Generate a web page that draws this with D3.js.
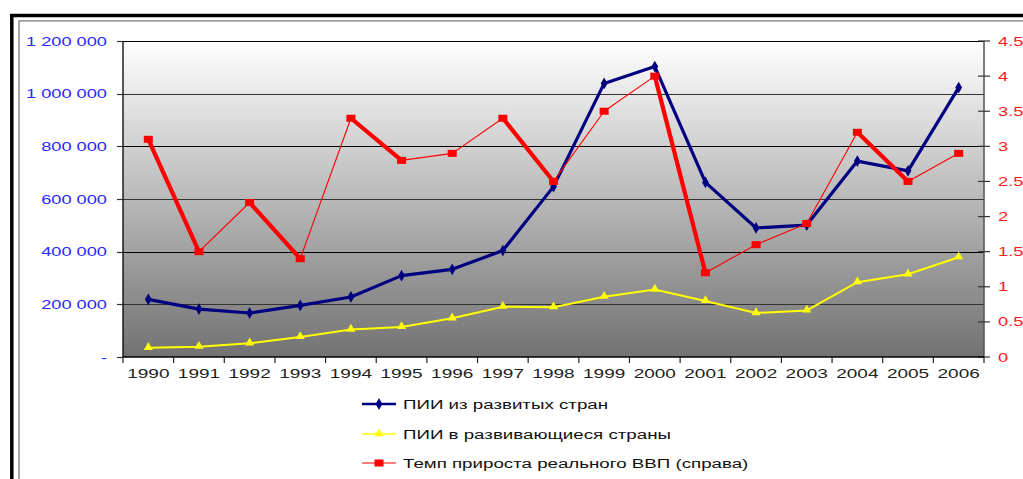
<!DOCTYPE html>
<html><head><meta charset="utf-8">
<script src="https://cdn.jsdelivr.net/npm/d3@7"></script>
<style>
html,body{margin:0;padding:0;background:#fff;}
svg{display:block;}
text{font-family:"Liberation Sans",Arial,sans-serif;}
</style></head>
<body>
<svg id="c" width="1023" height="479"></svg>
<script>
const years = ["1990","1991","1992","1993","1994","1995","1996","1997","1998","1999","2000","2001","2002","2003","2004","2005","2006"];
const fdiDeveloped = [219000,182000,167000,196000,228000,309000,333000,404000,647000,1039000,1103000,663000,490000,501000,744000,707000,1023000];
const fdiDeveloping = [35000,39000,52000,76000,104000,114000,147000,191000,189000,229000,256000,213000,167000,177000,284000,314000,379000];
const gdpGrowth = [3.1,1.5,2.2,1.4,3.4,2.8,2.9,3.4,2.5,3.5,4.0,1.2,1.6,1.9,3.2,2.5,2.9];
const leftTicks = [0,200000,400000,600000,800000,1000000,1200000];
const rightTicks = [0,0.5,1,1.5,2,2.5,3,3.5,4,4.5];
const legendLabels = ["ПИИ из развитых стран","ПИИ в развивающиеся страны","Темп прироста реального ВВП (справа)"];

const SX = 1.52; // horizontal stretch of text in the reference
const svg = d3.select("#c");
const L = 123, R = 984, T = 41, B = 357;

// frame
svg.append("line").attr("x1",10).attr("x2",1023).attr("y1",15.5).attr("y2",15.5).attr("stroke","#000").attr("stroke-width",3.5);
svg.append("line").attr("x1",11.8).attr("x2",11.8).attr("y1",14).attr("y2",479).attr("stroke","#000").attr("stroke-width",3.5);
svg.append("line").attr("x1",19).attr("x2",1023).attr("y1",20.8).attr("y2",20.8).attr("stroke","#777").attr("stroke-width",1.3);
svg.append("line").attr("x1",19).attr("x2",19).attr("y1",20.5).attr("y2",479).attr("stroke","#777").attr("stroke-width",1.3);

const x = d3.scaleBand().domain(years).range([L,R]);
const cx = d => x(d) + x.bandwidth()/2;
const yL = d3.scaleLinear().domain([0,1200000]).range([B,T]);
const yR = d3.scaleLinear().domain([0,4.5]).range([B,T]);

// background gradient
const defs = svg.append("defs");
const g = defs.append("linearGradient").attr("id","bg").attr("x1",0).attr("x2",0).attr("y1",0).attr("y2",1);
g.append("stop").attr("offset","0%").attr("stop-color","#ffffff");
g.append("stop").attr("offset","100%").attr("stop-color","#727272");
svg.append("rect").attr("x",L).attr("y",T).attr("width",R-L).attr("height",B-T).attr("fill","url(#bg)");

// gridlines
svg.append("g").selectAll("line").data(leftTicks.filter(d=>d>0)).join("line")
  .attr("x1",L).attr("x2",R).attr("y1",d=>Math.round(yL(d))+0.5).attr("y2",d=>Math.round(yL(d))+0.5)
  .attr("stroke",(d,i)=> i%2? "#000":"#333").attr("stroke-width",1.2);

// left axis
const loc = d3.formatLocale({decimal:",",thousands:"\u00a0",grouping:[3],currency:["",""]});
const fmtL = loc.format(",");
const gl = svg.append("g");
gl.append("line").attr("x1",L).attr("x2",L).attr("y1",T).attr("y2",B).attr("stroke","#000").attr("stroke-width",1.3);
gl.selectAll("line.t").data(leftTicks).join("line").attr("class","t")
  .attr("x1",L-6).attr("x2",L).attr("y1",d=>Math.round(yL(d))+0.5).attr("y2",d=>Math.round(yL(d))+0.5)
  .attr("stroke","#333").attr("stroke-width",1.2);
gl.selectAll("text").data(leftTicks).join("text")
  .attr("transform",d=>`translate(${L-16},${yL(d)+4.5}) scale(${SX},1)`)
  .attr("text-anchor","end").attr("font-size",12).attr("fill","#2a2aff")
  .text(d=> d===0 ? "-" : fmtL(d));

// right axis
const gr = svg.append("g");
gr.append("line").attr("x1",R).attr("x2",R).attr("y1",T).attr("y2",B).attr("stroke","#555").attr("stroke-width",1.5);
gr.selectAll("line.t").data(rightTicks).join("line").attr("class","t")
  .attr("x1",R-6).attr("x2",R+6).attr("y1",d=>yR(d)).attr("y2",d=>yR(d))
  .attr("stroke","#333").attr("stroke-width",1.2);
gr.selectAll("text").data(rightTicks).join("text")
  .attr("transform",d=>`translate(${R+14},${yR(d)+4.5}) scale(${SX},1)`)
  .attr("text-anchor","start").attr("font-size",12).attr("fill","#ff1a1a")
  .text(d=>String(d));

// x axis
const gx = svg.append("g");
gx.append("line").attr("x1",L).attr("x2",R).attr("y1",B).attr("y2",B).attr("stroke","#000").attr("stroke-width",1.3);
gx.selectAll("line.t").data(years.concat(["end"])).join("line").attr("class","t")
  .attr("x1",(d,i)=> i<years.length ? x(d) : R).attr("x2",(d,i)=> i<years.length ? x(d) : R)
  .attr("y1",B).attr("y2",B+6).attr("stroke","#222").attr("stroke-width",1.2);
gx.selectAll("text").data(years).join("text")
  .attr("transform",d=>`translate(${cx(d)},${B+21}) scale(${SX},1)`)
  .attr("text-anchor","middle").attr("font-size",12.5).attr("fill","#222")
  .text(d=>d);

// series
const diamond = d3.symbol().type(d3.symbolDiamond).size(40);
const tri = d3.symbol().type(d3.symbolTriangle).size(36);

// yellow
const lineY = d3.line().x((d,i)=>cx(years[i])).y(d=>yL(d));
svg.append("path").attr("d",lineY(fdiDeveloping)).attr("fill","none").attr("stroke","#ffff00").attr("stroke-width",2);
svg.append("g").selectAll("path").data(fdiDeveloping).join("path")
  .attr("d",tri).attr("transform",(d,i)=>`translate(${cx(years[i])},${yL(d)-0.5})`).attr("fill","#ffff00");

// navy
svg.append("path").attr("d",lineY(fdiDeveloped)).attr("fill","none").attr("stroke","#000080").attr("stroke-width",3.2).attr("stroke-linejoin","round");
svg.append("g").selectAll("path").data(fdiDeveloped).join("path")
  .attr("d",diamond).attr("transform",(d,i)=>`translate(${cx(years[i])},${yL(d)})`).attr("fill","#000080");

// red: segments, thick where falling
const segs = d3.pairs(gdpGrowth.map((v,i)=>({v,i})));
svg.append("g").selectAll("line").data(segs).join("line")
  .attr("x1",d=>cx(years[d[0].i])).attr("y1",d=>yR(d[0].v))
  .attr("x2",d=>cx(years[d[1].i])).attr("y2",d=>yR(d[1].v))
  .attr("stroke","#ff0000").attr("stroke-width",d=> d[1].v < d[0].v ? 4.2 : 1.1);
svg.append("g").selectAll("rect").data(gdpGrowth).join("rect")
  .attr("x",(d,i)=>cx(years[i])-4.5).attr("y",d=>yR(d)-3.5).attr("width",9).attr("height",7).attr("fill","#ff0000");

// legend
const legY = [404,434,463];
const lg = svg.append("g");
const lx1 = 362, lx2 = 396, lm = 379;
lg.append("line").attr("x1",lx1).attr("x2",lx2).attr("y1",legY[0]).attr("y2",legY[0]).attr("stroke","#000080").attr("stroke-width",2.5);
lg.append("path").attr("d",diamond).attr("transform",`translate(${lm},${legY[0]})`).attr("fill","#000080");
lg.append("line").attr("x1",lx1).attr("x2",lx2).attr("y1",legY[1]).attr("y2",legY[1]).attr("stroke","#ffff00").attr("stroke-width",1.6);
lg.append("path").attr("d",tri).attr("transform",`translate(${lm},${legY[1]-0.5})`).attr("fill","#ffff00");
lg.append("line").attr("x1",lx1).attr("x2",lx2).attr("y1",legY[2]).attr("y2",legY[2]).attr("stroke","#ff0000").attr("stroke-width",1.1);
lg.append("rect").attr("x",lm-4.5).attr("y",legY[2]-3.5).attr("width",9).attr("height",7).attr("fill","#ff0000");
lg.selectAll("text").data(legendLabels).join("text")
  .attr("transform",(d,i)=>`translate(403,${legY[i]+4.5}) scale(1.56,1)`)
  .attr("font-size",12).attr("fill","#111").text(d=>d);
</script>
</body></html>
